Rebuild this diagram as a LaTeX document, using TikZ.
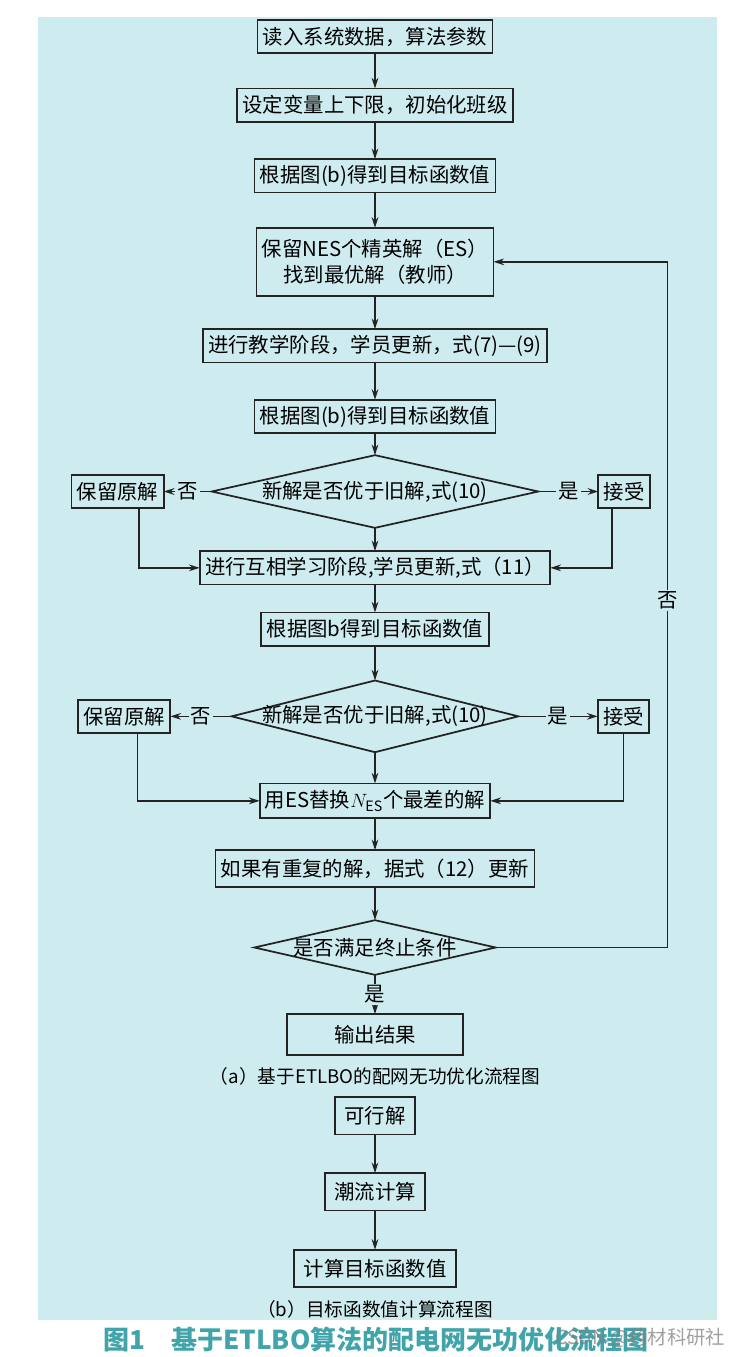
\documentclass[tikz,border=0pt]{standalone}
\usepackage{fontspec}
\setmainfont{Noto Sans CJK SC}
\usepackage{xcolor}
\usepackage{tikz}
\usetikzlibrary{shapes.geometric,arrows.meta,positioning}

\definecolor{bgcyan}{RGB}{206,236,239}
\definecolor{titleteal}{RGB}{64,164,170}
\definecolor{linegray}{RGB}{35,35,35}
\newcommand{\dtext}[1]{\makebox[0pt]{#1}}

\begin{document}
\begin{tikzpicture}[
    x=0.75pt, y=-0.75pt,
    node distance=25pt,
    box/.style={rectangle, draw=linegray, line width=1.3pt, fill=bgcyan, outer sep=0pt, inner xsep=4pt, inner ysep=0pt, minimum height=25pt, align=center, font=\fontsize{15.3}{19}\selectfont},
    bbox/.style={box, inner xsep=7pt, minimum height=28pt},
    decision/.style={diamond, draw=linegray, line width=1.3pt, fill=bgcyan, outer sep=0pt, inner sep=0pt, aspect=4, font=\fontsize{15.3}{19}\selectfont},
    lbl/.style={fill=bgcyan, inner sep=1.5pt, font=\fontsize{15.3}{19}\selectfont},
    caption/.style={inner sep=0pt, font=\fontsize{14}{17}\selectfont},
    arrow/.style={-{Stealth[length=8pt,width=5pt]}, draw=linegray, line width=1.2pt}
]
    \useasboundingbox (0,0) rectangle (742,1357);
    \fill[bgcyan] (38,17) rectangle (717,1320);

    % (a) main column
    \node[box] (read) at (375,36.5) {读入系统数据，算法参数};
    \node[box, below=26.5pt of read] (init) {设定变量上下限，初始化班级};
    \node[box, below=28pt of init] (eval1) {根据图(b)得到目标函数值};
    \node[box, below=26.5pt of eval1, minimum height=51pt] (elite) {保留NES个精英解（ES）\\找到最优解（教师）};
    \node[box, below=25pt of elite] (teach) {进行教学阶段，学员更新，式(7)—(9)};
    \node[box, below=28pt of teach] (eval2) {根据图(b)得到目标函数值};
    \node[decision, below=16.5pt of eval2, minimum width=245pt, minimum height=54.5pt] (cmp1) {\dtext{新解是否优于旧解,式(10)}};
    \node[box, left=36pt of cmp1] (keep1) {保留原解};
    \node[box, right=45pt of cmp1] (acc1) {接受};
    \node[box, below=17.5pt of cmp1] (learn) {进行互相学习阶段,学员更新,式（11）};
    \node[box, below=21pt of learn] (eval3) {根据图b得到目标函数值};
    \node[decision, below=26pt of eval3, minimum width=215pt, minimum height=53.75pt] (cmp2) {\dtext{新解是否优于旧解,式(10)}};
    \node[box, left=46pt of cmp2] (keep2) {保留原解};
    \node[box, right=59.5pt of cmp2] (acc2) {接受};
    \node[box, below=23.5pt of cmp2, minimum height=26pt] (swap) {用ES替换$N_{\mathrm{ES}}$个最差的解};
    \node[box, below=24pt of swap, minimum height=27.5pt] (dup) {如果有重复的解，据式（12）更新};
    \node[decision, below=25pt of dup, minimum width=181pt, minimum height=41pt] (stop) {\dtext{是否满足终止条件}};
    \node[box, below=29.5pt of stop, minimum width=132.5pt, minimum height=30.5pt] (output) {输出结果};
    \node[caption, below=9.5pt of output] (capa) {（a）基于ETLBO的配网无功优化流程图};

    % (b) objective evaluation
    \node[bbox, below=8.5pt of capa] (feas) {可行解};
    \node[bbox, below=29pt of feas] (flow) {潮流计算};
    \node[bbox, below=29.5pt of flow] (calc) {计算目标函数值};
    \node[caption, below=10pt of calc] (capb) {（b）目标函数值计算流程图};

    % title and mark
    \node[font=\bfseries\fontsize{19.5}{22}\selectfont, text=titleteal] (title) at (376,1340) {图1　基于ETLBO算法的配电网无功优化流程图};
    \node[anchor=east, text=gray, opacity=0.75, font=\fontsize{14.5}{17}\selectfont] (mark) at (730,1338) {CSDN @药材科研社};

    \coordinate[right=129pt of stop.east] (loop);

    % Arrows
    \draw[arrow] (read) -- (init);
    \draw[arrow] (init) -- (eval1);
    \draw[arrow] (eval1) -- (elite);
    \draw[arrow] (elite) -- (teach);
    \draw[arrow] (teach) -- (eval2);
    \draw[arrow] (eval2) -- (cmp1);
    \draw[arrow] (cmp1.west) -- node[lbl] {否} (keep1.east);
    \draw[arrow] (cmp1.east) -- node[lbl] {是} (acc1.west);
    \draw[arrow] (cmp1) -- (learn);
    \draw[arrow] ([xshift=16pt]keep1.south) |- (learn.west);
    \draw[arrow] ([xshift=-9pt]acc1.south) |- (learn.east);
    \draw[arrow] (learn) -- (eval3);
    \draw[arrow] (eval3) -- (cmp2);
    \draw[arrow] (cmp2.west) -- node[lbl] {否} (keep2.east);
    \draw[arrow] (cmp2.east) -- node[lbl] {是} (acc2.west);
    \draw[arrow] (cmp2) -- (swap);
    \draw[arrow] ([xshift=10pt]keep2.south) |- (swap.west);
    \draw[arrow] (acc2.south) |- (swap.east);
    \draw[arrow] (swap) -- (dup);
    \draw[arrow] (dup) -- (stop);
    \draw[arrow] (stop) -- node[lbl] {是} (output);
    \draw[arrow] (stop.east) -- (loop) |- node[lbl, pos=0.253] {否} (elite.east);
    \draw[arrow] (feas) -- (flow);
    \draw[arrow] (flow) -- (calc);

\end{tikzpicture}
\end{document}
